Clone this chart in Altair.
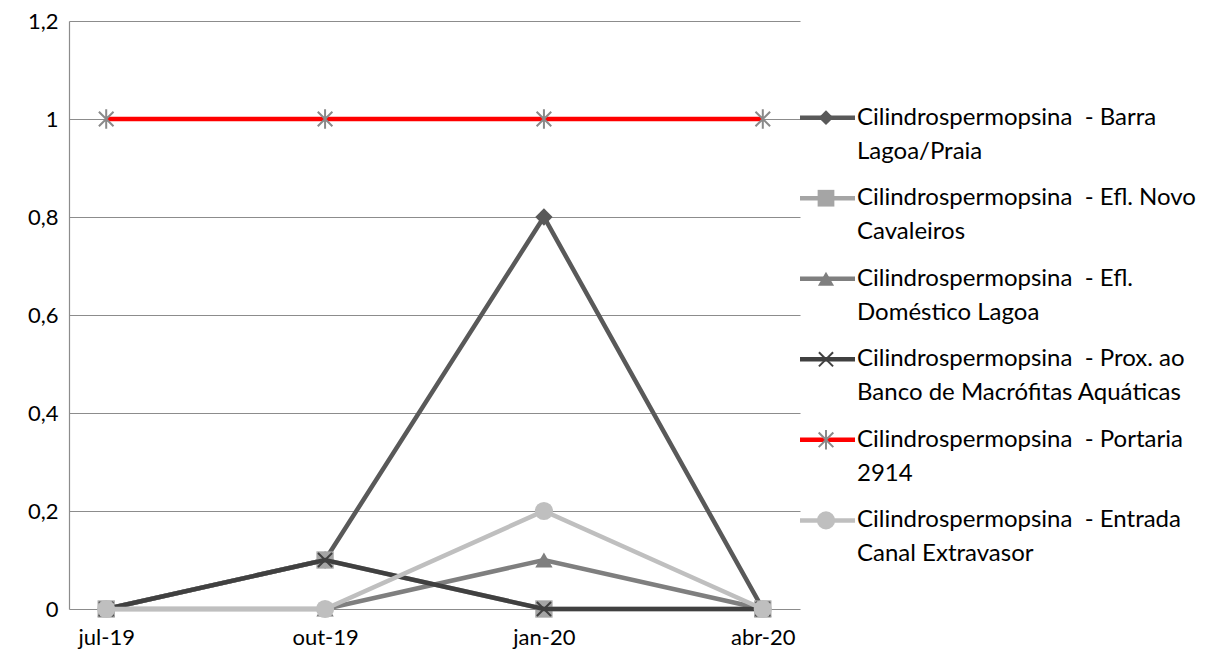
import altair as alt
import pandas as pd

# ---------------- data ----------------
months = ["jul-19", "out-19", "jan-20", "abr-20"]

series_names = [
    "Cilindrospermopsina  - Barra Lagoa/Praia",
    "Cilindrospermopsina  - Efl. Novo Cavaleiros",
    "Cilindrospermopsina  - Efl. Doméstico Lagoa",
    "Cilindrospermopsina  - Prox. ao Banco de Macrófitas Aquáticas",
    "Cilindrospermopsina  - Portaria 2914",
    "Cilindrospermopsina  - Entrada Canal Extravasor",
]
legend_line1 = [
    "Cilindrospermopsina\u00a0 - Barra",
    "Cilindrospermopsina\u00a0 - Efl. Novo",
    "Cilindrospermopsina\u00a0 - Efl.",
    "Cilindrospermopsina\u00a0 - Prox. ao",
    "Cilindrospermopsina\u00a0 - Portaria",
    "Cilindrospermopsina\u00a0 - Entrada",
]
legend_line2 = [
    "Lagoa/Praia",
    "Cavaleiros",
    "Doméstico Lagoa",
    "Banco de Macrófitas Aquáticas",
    "2914",
    "Canal Extravasor",
]

barra = [0, 0.1, 0.8, 0]
novo_cavaleiros = [0, 0.1, 0, 0]
domestico = [0, 0, 0.1, 0]
prox_banco = [0, 0.1, 0, 0]
portaria = [1, 1, 1, 1]
entrada = [0, 0, 0.2, 0]
series_values = [barra, novo_cavaleiros, domestico, prox_banco, portaria, entrada]

y_ticks = [0, 0.2, 0.4, 0.6, 0.8, 1.0, 1.2]

# ---------------- styles ----------------
FONT = "Lato"
AXIS_FS = 22
LEG_FS = 24
line_colors = ["#595959", "#a5a5a5", "#7f7f7f", "#404040", "#ff0000", "#bfbfbf"]
marker_colors = ["#595959", "#a5a5a5", "#7f7f7f", "#404040", "#8a8a8a", "#bfbfbf"]
ASTERISK = "M-0.75,-0.75L0.75,0.75M-0.75,0.75L0.75,-0.75M0,-1L0,1"
XMARK = "M-1,-1L1,1M-1,1L1,-1"
marker_shapes = ["diamond", "square", "triangle-up", XMARK, ASTERISK, "circle"]
marker_filled = [True, True, True, False, False, True]
marker_sizes = [300, 300, 300, 200, 380, 330]
legend_marker_sizes = [220, 280, 260, 200, 380, 330]

# ---------------- main chart ----------------
x_enc = alt.X(
    "month:N",
    sort=months,
    scale=alt.Scale(type="point", padding=0.17),
    axis=alt.Axis(
        title=None, labelAngle=0, ticks=False, domain=False, grid=False,
        labelPadding=18, labelFontSize=AXIS_FS, labelFont=FONT, labelColor="#000000",
        labelFontWeight="normal",
    ),
)
y_enc = alt.Y(
    "value:Q",
    scale=alt.Scale(domain=[0, 1.2], nice=False, zero=True),
    axis=alt.Axis(
        title=None, values=y_ticks, format="~g",
        labelExpr="replace(datum.label, '.', ',')",
        ticks=False, domain=True, domainColor="#8c8c8c", domainWidth=1.2,
        grid=True, gridColor="#8c8c8c", gridWidth=1.2,
        labelPadding=11, labelFontSize=AXIS_FS, labelFont=FONT, labelColor="#000000",
        minExtent=64, maxExtent=64,
    ),
)

layers = []
for i, name in enumerate(series_names):
    df = pd.DataFrame({"month": months, "value": series_values[i], "series": name})
    base = alt.Chart(df)
    line = base.mark_line(color=line_colors[i], strokeWidth=4.5, strokeJoin="miter").encode(
        x=x_enc, y=y_enc
    )
    if marker_filled[i]:
        pts = base.mark_point(
            shape=marker_shapes[i], filled=True, color=marker_colors[i],
            size=marker_sizes[i], opacity=1,
        ).encode(x=x_enc, y=y_enc)
    else:
        pts = base.mark_point(
            shape=marker_shapes[i], filled=False, color=marker_colors[i],
            size=marker_sizes[i], strokeWidth=2, opacity=1,
        ).encode(x=x_enc, y=y_enc)
    layers += [line, pts]

main = alt.layer(*layers).properties(width=731, height=588)

# ---------------- legend (drawn as its own small chart) ----------------
leg_y = alt.Y("idx:Q", scale=alt.Scale(domain=[-1.2, 6.1], reverse=True, nice=False, zero=False), axis=None)
leg_layers = []
for i in range(len(series_names)):
    ldf = pd.DataFrame({"idx": [i], "l1": [legend_line1[i]], "l2": [legend_line2[i]]})
    lb = alt.Chart(ldf)
    rule = lb.mark_rule(color=line_colors[i], strokeWidth=4.5).encode(
        x=alt.value(0), x2=alt.value(55), y=leg_y
    )
    if marker_filled[i]:
        mk = lb.mark_point(shape=marker_shapes[i], filled=True, color=marker_colors[i],
                           size=legend_marker_sizes[i], opacity=1).encode(x=alt.value(26), y=leg_y)
    else:
        mk = lb.mark_point(shape=marker_shapes[i], filled=False, color=marker_colors[i],
                           size=legend_marker_sizes[i], strokeWidth=2, opacity=1).encode(x=alt.value(26), y=leg_y)
    t1 = lb.mark_text(align="left", baseline="middle", font=FONT, fontSize=LEG_FS, color="#000000").encode(
        x=alt.value(57), y=leg_y, text="l1:N"
    )
    t2 = lb.mark_text(align="left", baseline="middle", font=FONT, fontSize=LEG_FS, color="#000000", dy=34).encode(
        x=alt.value(57), y=leg_y, text="l2:N"
    )
    leg_layers += [rule, mk, t1, t2]

legend = alt.layer(*leg_layers).properties(width=400, height=588)

chart = (
    alt.hconcat(main, legend, spacing=-3)
    .properties(padding={"left": 5, "top": 10, "right": 5, "bottom": 2}, background="white")
    .configure_view(strokeWidth=0)
)

chart.save("out.html", embed_options={"renderer": "svg", "actions": False})
